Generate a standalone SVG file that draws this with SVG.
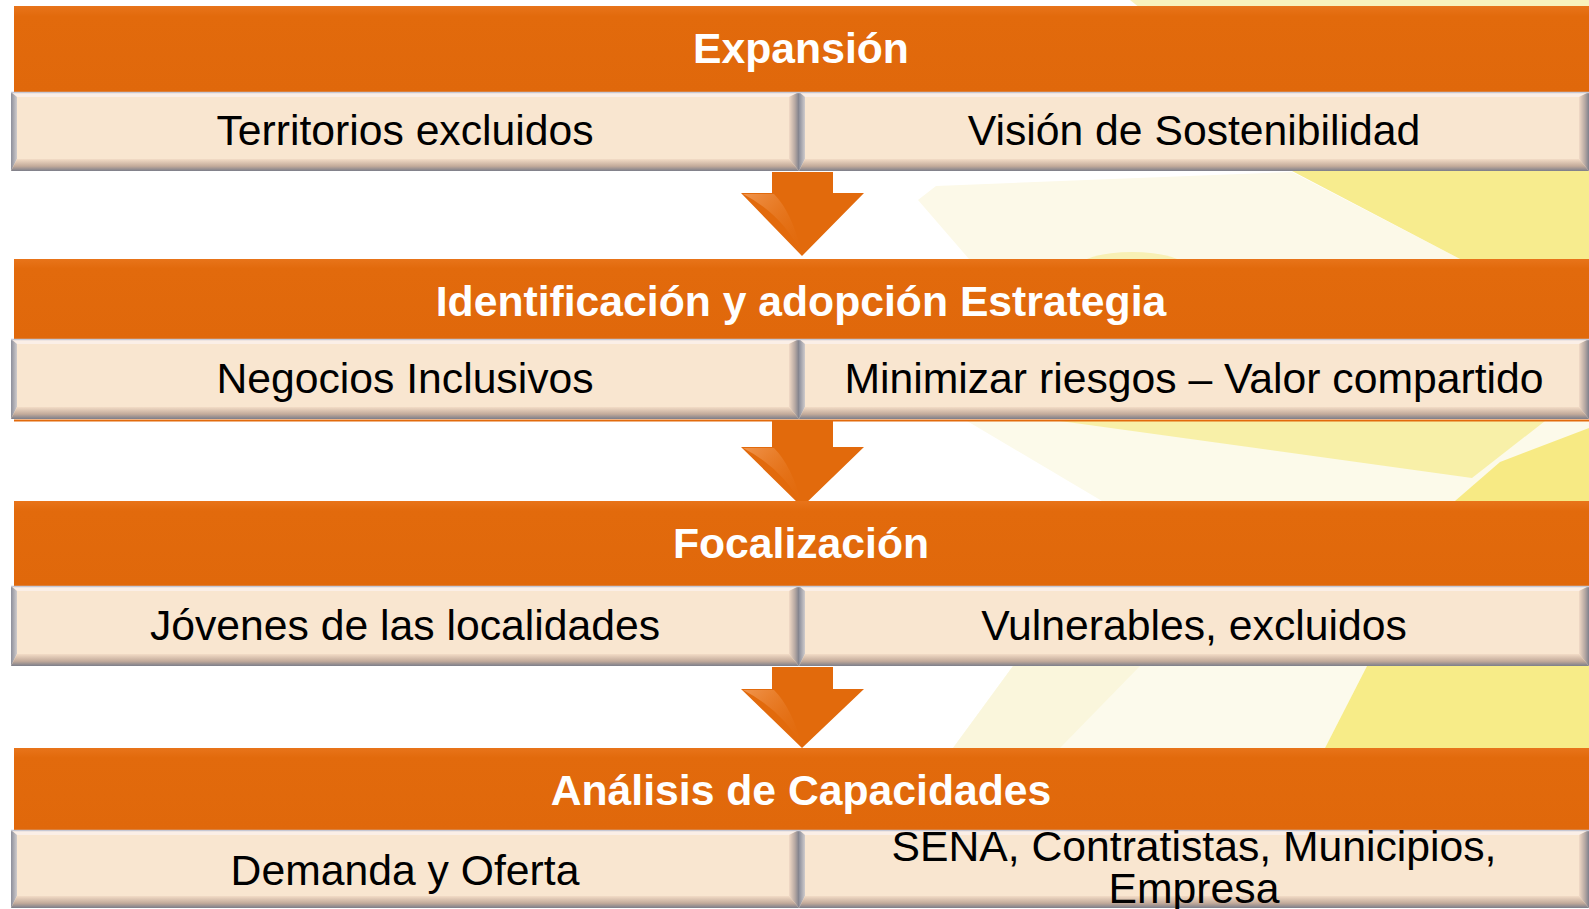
<svg xmlns="http://www.w3.org/2000/svg" width="1589" height="909" viewBox="0 0 1589 909">
<style>
.band{fill:#e26a0c}
.box{fill:#f9e6d0}
.bvT{fill:#fbefe7}
.bvL{fill:url(#gL)}
.bvR{fill:url(#gR)}
.bvB{fill:url(#gB)}
.edge{stroke:#c6c8d4;stroke-width:1.5}
.hd{font-family:"Liberation Sans",Arial,sans-serif;font-size:42.7px;font-weight:bold;fill:#ffffff;text-anchor:middle}
.tx{font-family:"Liberation Sans",Arial,sans-serif;font-size:42.7px;fill:#000000;text-anchor:middle}
.arrow{fill:#e26a0c}
.gloss{fill:url(#gGloss)}
</style>
<defs>
<linearGradient id="gL" x1="0" y1="0" x2="1" y2="0"><stop offset="0" stop-color="#8c8e9a"/><stop offset="1" stop-color="#cfcbcc"/></linearGradient>
<linearGradient id="gR" x1="0" y1="0" x2="1" y2="0"><stop offset="0" stop-color="#f2dac6"/><stop offset="0.6" stop-color="#b6a8a2"/><stop offset="1" stop-color="#7e808c"/></linearGradient>
<linearGradient id="gB" x1="0" y1="0" x2="0" y2="1"><stop offset="0" stop-color="#f3dcc6"/><stop offset="0.6" stop-color="#c2aa9a"/><stop offset="1" stop-color="#7c7e8a"/></linearGradient>
<linearGradient id="gGloss" x1="0" y1="0" x2="1" y2="1"><stop offset="0" stop-color="#f29a55" stop-opacity="0.9"/><stop offset="1" stop-color="#e26a0c" stop-opacity="0"/></linearGradient>
<linearGradient id="gBand" x1="0" y1="0" x2="0" y2="1"><stop offset="0" stop-color="#e8741a"/><stop offset="0.12" stop-color="#e26a0c"/><stop offset="1" stop-color="#e0680b"/></linearGradient>
</defs>
<rect width="1589" height="909" fill="#ffffff"/>
<g id="background">
<polygon points="1130,0 1589,0 1589,8 1140,8" fill="#f8f2bc"/>
<polygon points="918,200 936,186 1292,172 1460,259 969,259" fill="#fcf9e8"/>
<polygon points="1292,171 1589,171 1589,259 1460,259" fill="#f7ec8e"/>
<ellipse cx="1132" cy="268" rx="55" ry="16" fill="#f8f0b4"/>
<polygon points="967,421 1589,421 1589,501 1102,501" fill="#fcfaea"/>
<polygon points="1060,421 1545,421 1472,478" fill="#f8f0a8"/>
<polygon points="1455,501 1500,462 1589,428 1589,501" fill="#f7ea84"/>
<polygon points="1013,666 1367,666 1325,748 953,748" fill="#fcfaec"/>
<polygon points="1013,666 1140,666 1060,748 953,748" fill="#faf6dc"/>
<polygon points="1367,666 1589,666 1589,748 1325,748" fill="#f7ec88"/>
</g>
<g id="connectors">
<g id="arrow1"><polygon class="arrow" points="772,172 833,172 833,193 864,193 802,256 741,193 772,193"/><path class="gloss" d="M743,194 L774,194 Q792,212 802,254 Q782,214 743,194 Z"/></g>
<g id="arrow2"><polygon class="arrow" points="772,420 833,420 833,447 864,447 802,507 741,447 772,447"/><path class="gloss" d="M743,448 L774,448 Q792,466 802,505 Q782,468 743,448 Z"/></g>
<g id="arrow3"><polygon class="arrow" points="772,667 833,667 833,689 864,689 802,748 741,689 772,689"/><path class="gloss" d="M743,690 L774,690 Q792,708 802,746 Q782,710 743,690 Z"/></g>
</g>
<rect x="14" y="419.5" width="1575" height="2" fill="#e26a0c"/>
<g id="node-expansion"><rect x="14" y="6" width="1575" height="86" fill="url(#gBand)"/><text class="hd" x="801" y="63">Expansión</text></g>
<g id="node-territorios">
<rect class="box" x="11" y="92" width="788" height="79"/>
<polygon class="bvT" points="11,92 799,92 789,97 17,97"/>
<polygon class="bvL" points="11,92 17,97 17,159 11,171"/>
<polygon class="bvR" points="799,92 799,171 789,159 789,97"/>
<polygon class="bvB" points="11,171 799,171 789,159 17,159"/>
<line class="edge" x1="11" y1="92.5" x2="799" y2="92.5"/>
<text class="tx" x="405" y="145">Territorios excluidos</text></g>
<g id="node-vision">
<rect class="box" x="799" y="92" width="790" height="79"/>
<polygon class="bvT" points="799,92 1589,92 1579,97 805,97"/>
<polygon class="bvL" points="799,92 805,97 805,159 799,171"/>
<polygon class="bvR" points="1589,92 1589,171 1579,159 1579,97"/>
<polygon class="bvB" points="799,171 1589,171 1579,159 805,159"/>
<line class="edge" x1="799" y1="92.5" x2="1589" y2="92.5"/>
<text class="tx" x="1194" y="145">Visión de Sostenibilidad</text></g>
<g id="node-identificacion"><rect x="14" y="259" width="1575" height="80" fill="url(#gBand)"/><text class="hd" x="801" y="316">Identificación y adopción Estrategia</text></g>
<g id="node-negocios">
<rect class="box" x="11" y="339" width="788" height="80"/>
<polygon class="bvT" points="11,339 799,339 789,344 17,344"/>
<polygon class="bvL" points="11,339 17,344 17,407 11,419"/>
<polygon class="bvR" points="799,339 799,419 789,407 789,344"/>
<polygon class="bvB" points="11,419 799,419 789,407 17,407"/>
<line class="edge" x1="11" y1="339.5" x2="799" y2="339.5"/>
<text class="tx" x="405" y="393">Negocios Inclusivos</text></g>
<g id="node-minimizar">
<rect class="box" x="799" y="339" width="790" height="80"/>
<polygon class="bvT" points="799,339 1589,339 1579,344 805,344"/>
<polygon class="bvL" points="799,339 805,344 805,407 799,419"/>
<polygon class="bvR" points="1589,339 1589,419 1579,407 1579,344"/>
<polygon class="bvB" points="799,419 1589,419 1579,407 805,407"/>
<line class="edge" x1="799" y1="339.5" x2="1589" y2="339.5"/>
<text class="tx" x="1194" y="393">Minimizar riesgos – Valor compartido</text></g>
<g id="node-focalizacion"><rect x="14" y="501" width="1575" height="85" fill="url(#gBand)"/><text class="hd" x="801" y="558">Focalización</text></g>
<g id="node-jovenes">
<rect class="box" x="11" y="586" width="788" height="80"/>
<polygon class="bvT" points="11,586 799,586 789,591 17,591"/>
<polygon class="bvL" points="11,586 17,591 17,654 11,666"/>
<polygon class="bvR" points="799,586 799,666 789,654 789,591"/>
<polygon class="bvB" points="11,666 799,666 789,654 17,654"/>
<line class="edge" x1="11" y1="586.5" x2="799" y2="586.5"/>
<text class="tx" x="405" y="640">Jóvenes de las localidades</text></g>
<g id="node-vulnerables">
<rect class="box" x="799" y="586" width="790" height="80"/>
<polygon class="bvT" points="799,586 1589,586 1579,591 805,591"/>
<polygon class="bvL" points="799,586 805,591 805,654 799,666"/>
<polygon class="bvR" points="1589,586 1589,666 1579,654 1579,591"/>
<polygon class="bvB" points="799,666 1589,666 1579,654 805,654"/>
<line class="edge" x1="799" y1="586.5" x2="1589" y2="586.5"/>
<text class="tx" x="1194" y="640">Vulnerables, excluidos</text></g>
<g id="node-analisis"><rect x="14" y="748" width="1575" height="82" fill="url(#gBand)"/><text class="hd" x="801" y="805">Análisis de Capacidades</text></g>
<g id="node-demanda">
<rect class="box" x="11" y="830" width="788" height="78"/>
<polygon class="bvT" points="11,830 799,830 789,835 17,835"/>
<polygon class="bvL" points="11,830 17,835 17,896 11,908"/>
<polygon class="bvR" points="799,830 799,908 789,896 789,835"/>
<polygon class="bvB" points="11,908 799,908 789,896 17,896"/>
<line class="edge" x1="11" y1="830.5" x2="799" y2="830.5"/>
<text class="tx" x="405" y="885">Demanda y Oferta</text></g>
<g id="node-sena">
<rect class="box" x="799" y="830" width="790" height="78"/>
<polygon class="bvT" points="799,830 1589,830 1579,835 805,835"/>
<polygon class="bvL" points="799,830 805,835 805,896 799,908"/>
<polygon class="bvR" points="1589,830 1589,908 1579,896 1579,835"/>
<polygon class="bvB" points="799,908 1589,908 1579,896 805,896"/>
<line class="edge" x1="799" y1="830.5" x2="1589" y2="830.5"/>
<text class="tx"><tspan x="1194" y="861">SENA, Contratistas, Municipios,</tspan><tspan x="1194" y="903">Empresa</tspan></text></g>
</svg>
